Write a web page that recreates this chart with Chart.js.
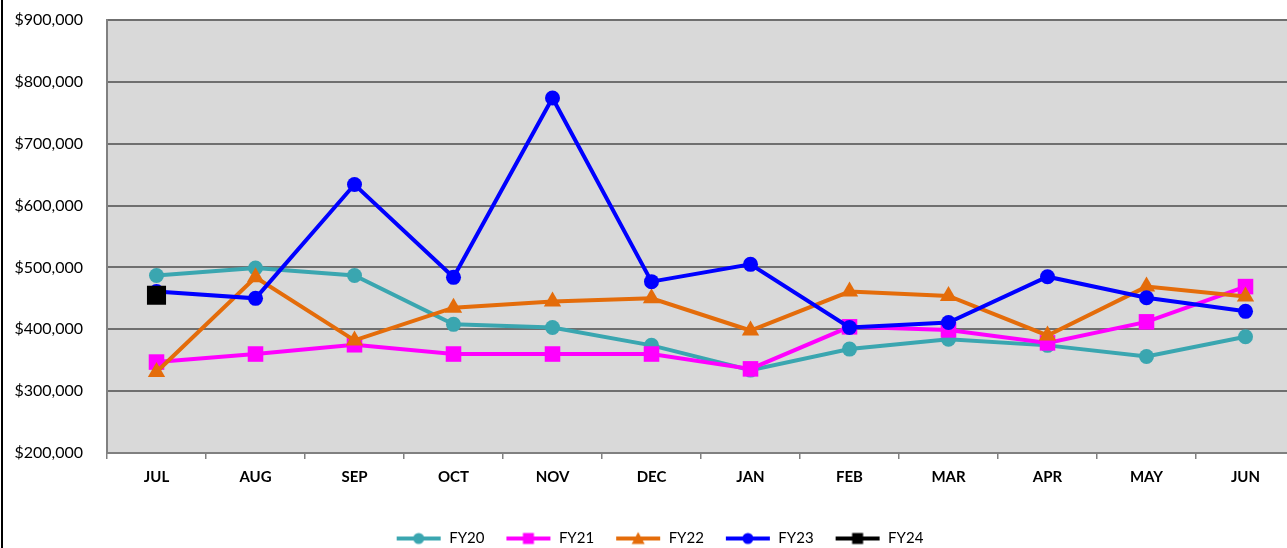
<!DOCTYPE html>
<html>
<head>
<meta charset="utf-8">
<script src="https://cdn.jsdelivr.net/npm/chart.js@4/dist/chart.umd.min.js"></script>
<style>
  html, body { margin:0; padding:0; background:#fff; overflow:hidden; width:1287px; height:548px; }
  #wrap { position:absolute; left:0; top:0; width:1320px; height:558px; }
  #edge { position:absolute; left:1px; top:0; width:2px; height:548px; background:#000; }
</style>
</head>
<body>
<div id="wrap"><canvas id="c" width="1320" height="558"></canvas></div>
<div id="edge"></div>
<script>
const months = ['JUL','AUG','SEP','OCT','NOV','DEC','JAN','FEB','MAR','APR','MAY','JUN'];
const fy20 = [487000, 499000, 487000, 408000, 403000, 374000, 334000, 368000, 384000, 374000, 356000, 388000];
const fy21 = [347000, 360000, 375000, 360000, 360000, 360000, 336000, 404000, 399000, 378000, 412000, 469000];
const fy22 = [331000, 484000, 382000, 435000, 445000, 450000, 398000, 461000, 454000, 390000, 469000, 453000];
const fy23 = [461000, 450000, 634000, 484000, 774000, 477000, 505000, 403000, 411000, 485000, 451000, 429000];
const fy24 = [455000];
const yTicks = [200000, 300000, 400000, 500000, 600000, 700000, 800000, 900000];

const FONT = 'Lato, "Open Sans", sans-serif';

function iconFor(color, style, r) {
  const c = document.createElement('canvas');
  c.width = 46; c.height = 18;
  const ctx = c.getContext('2d');
  ctx.strokeStyle = color; ctx.lineWidth = 4;
  ctx.beginPath(); ctx.moveTo(1, 9); ctx.lineTo(45, 9); ctx.stroke();
  ctx.fillStyle = color;
  const x = 23, y = 9;
  ctx.beginPath();
  if (style === 'circle') { ctx.arc(x, y, r, 0, Math.PI * 2); }
  else if (style === 'rect') { ctx.rect(x - r, y - r, 2 * r, 2 * r); }
  else if (style === 'triangle') { ctx.moveTo(x, y - r - 1); ctx.lineTo(x + r + 1, y + r); ctx.lineTo(x - r - 1, y + r); ctx.closePath(); }
  ctx.fill();
  return c;
}

function ds(label, data, color, style, radius, order, iconR) {
  return {
    label, data, order,
    borderColor: color, backgroundColor: color,
    pointBackgroundColor: color, pointBorderColor: color,
    borderWidth: 4, pointStyle: style, pointRadius: radius, pointHoverRadius: radius,
    pointBorderWidth: 0, tension: 0, fill: false,
    _icon: iconFor(color, style, iconR)
  };
}

const datasets = [
  ds('FY20', fy20, '#3aa6b0', 'circle', 7.5, 5, 5.5),
  ds('FY21', fy21, '#ff00ff', 'rect', 11, 4, 5.5),
  ds('FY22', fy22, '#e46c0a', 'triangle', 10, 3, 5.5),
  ds('FY23', fy23, '#0000ff', 'circle', 7.5, 2, 5.5),
  ds('FY24', fy24, '#000000', 'rect', 13.5, 1, 5.5)
];

new Chart(document.getElementById('c'), {
  type: 'line',
  data: { labels: months, datasets },
  options: {
    responsive: false,
    animation: false,
    layout: { autoPadding: false, padding: { top: 20, right: 25, left: 8, bottom: 2 } },
    plugins: {
      tooltip: { enabled: false },
      legend: {
        position: 'bottom',
        labels: {
          usePointStyle: true,
          pointStyleWidth: 46,
          padding: 21,
          color: '#222',
          font: { family: FONT, size: 15 },
          generateLabels(chart) {
            return chart.data.datasets.map((d, i) => ({
              text: d.label, datasetIndex: i, pointStyle: d._icon,
              fillStyle: d.borderColor, strokeStyle: d.borderColor, lineWidth: 0, hidden: false
            }));
          }
        }
      }
    },
    scales: {
      x: {
        offset: true,
        grid: { drawOnChartArea: false, offset: true, tickLength: 6, color: '#808080', lineWidth: 1.5 },
        border: { color: '#808080', width: 2 },
        ticks: { color: '#000', font: { family: FONT, size: 15, weight: 'bold' }, padding: 9, maxRotation: 0 },
        afterFit(s) { s.height = 57; }
      },
      y: {
        min: 200000, max: 900000,
        afterBuildTicks(s) { s.ticks = yTicks.map(v => ({ value: v })); },
        grid: { color: '#6f6f6f', lineWidth: 2, drawTicks: true, tickLength: 21, tickColor: 'rgba(0,0,0,0)' },
        border: { color: '#808080', width: 2 },
        ticks: {
          color: '#000', padding: 3,
          font: { family: FONT, size: 16 },
          callback: v => '$' + Number(v).toLocaleString('en-US')
        },
        afterFit(s) { s.width = 99; }
      }
    }
  },
  plugins: [{
    id: 'plotBg',
    afterLayout(chart) {
      const lg = chart.legend;
      if (lg) { lg.left += 8; lg.right += 8; }
    },
    beforeDraw(chart) {
      const a = chart.chartArea, ctx = chart.ctx;
      ctx.save(); ctx.fillStyle = '#d9d9d9';
      ctx.fillRect(a.left, a.top, a.right - a.left, a.bottom - a.top);
      ctx.restore();
    }
  }]
});
</script>
</body>
</html>
